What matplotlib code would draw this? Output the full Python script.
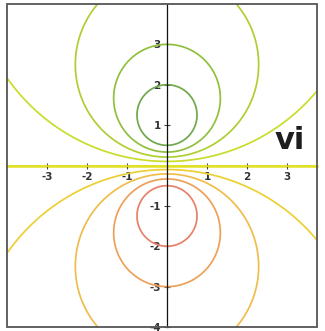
import numpy as np
import matplotlib.pyplot as plt
from matplotlib.patches import Rectangle

# level curves of f(x, y) = y / (x^2 + y^2 + 1)
levels = [-0.4, -0.3, -0.2, -0.1, 0.0, 0.1, 0.2, 0.3, 0.4]
level_colors = ['#e8806a', '#eea058', '#f0bc4c', '#eccf34', '#e2e024',
                '#c9dc2a', '#aecf32', '#90c03c', '#70a84c']
x_range = [-4.0, 3.75]
y_range = [-4.0, 4.0]
xticks = [-3, -2, -1, 1, 2, 3]
yticks = [-4, -3, -2, -1, 1, 2, 3]

xs = np.linspace(x_range[0], x_range[1], 700)
ys = np.linspace(y_range[0], y_range[1], 700)
X, Y = np.meshgrid(xs, ys)
Z = Y / (X**2 + Y**2 + 1)

fig = plt.figure(figsize=(3.25, 3.31), dpi=100)
ax = fig.add_axes([7 / 325, 4 / 331, 310 / 325, 323 / 331])

ax.contour(X, Y, Z, levels=levels, colors=level_colors, linewidths=1.25)

ax.set_xlim(x_range)
ax.set_ylim(y_range)

# axes through the origin, box drawn separately
ax.spines['left'].set_position('zero')
ax.spines['bottom'].set_position('zero')
ax.spines['top'].set_visible(False)
ax.spines['right'].set_visible(False)
ax.spines['left'].set_color('#111111')
ax.spines['left'].set_linewidth(0.9)
ax.spines['left'].set_zorder(5)
ax.spines['bottom'].set_color('#e2e024')
ax.spines['bottom'].set_linewidth(1.8)
ax.spines['bottom'].set_zorder(1)

ax.set_xticks(xticks)
ax.set_yticks(yticks)
ax.set_xticklabels([str(t) for t in xticks])
ax.set_yticklabels([str(t) for t in yticks])
ax.tick_params(direction='inout', length=5, width=0.8, color='#444444',
               labelsize=7.5, labelcolor='#333333', pad=2)
for lab in ax.get_xticklabels() + ax.get_yticklabels():
    lab.set_fontweight('bold')

ax.add_patch(Rectangle((0, 0), 1, 1, transform=ax.transAxes, fill=False,
                       edgecolor='#555555', linewidth=1.3, clip_on=False, zorder=6))

ax.text(3.07, 0.62, 'vi', fontsize=22, fontweight='bold', color='#1e1e1e',
        ha='center', va='center')

fig.savefig('out.png', dpi=100)
